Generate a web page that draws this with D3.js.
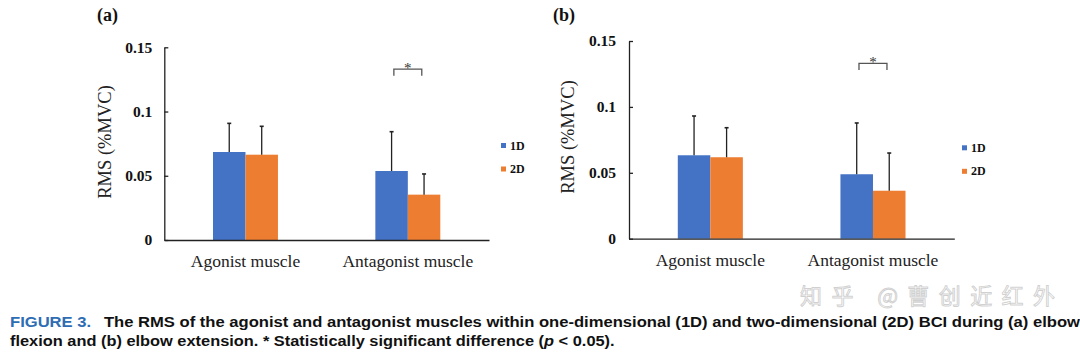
<!DOCTYPE html>
<html><head><meta charset="utf-8">
<script src="https://cdn.jsdelivr.net/npm/d3@7"></script>
<style>body{margin:0;background:#fff}svg{display:block}</style>
</head><body>
<svg id="c" width="1080" height="359"></svg>
<script>
const categories = ["Agonist muscle", "Antagonist muscle"];
const series = ["1D", "2D"];
const colors = ["#4472C4", "#ED7D31"];
const tickValues = [0, 0.05, 0.1, 0.15];
const tickLabels = ["0", "0.05", "0.1", "0.15"];
// panel (a) elbow flexion
const meanA_1D = [0.0685, 0.0537];
const meanA_2D = [0.0664, 0.0353];
const sdA_1D = [0.0223, 0.0306];
const sdA_2D = [0.0221, 0.0161];
// panel (b) elbow extension
const meanB_1D = [0.0633, 0.0489];
const meanB_2D = [0.0618, 0.0364];
const sdB_1D = [0.0298, 0.0389];
const sdB_2D = [0.0224, 0.0286];
const sigCategory = "Antagonist muscle";
const sigLevel = 0.133;

const svg = d3.select("#c");
const serif = "'Liberation Serif','Times New Roman',serif";
const sans = "'Liberation Sans',Arial,sans-serif";

function panel(o) {
  const g = svg.append("g");
  const y = d3.scaleLinear().domain([0, 0.15]).range([o.bottom, o.top]);
  const x = d3.scaleBand().domain(categories).range([o.left, o.right]).padding(0);
  const bw = x.bandwidth();
  const xs = d3.scaleBand().domain(series).range([bw * 0.3, bw * 0.7]);
  const means = [o.m1, o.m2], sds = [o.s1, o.s2];

  series.forEach((s, si) => {
    g.selectAll(null).data(categories).enter().append("rect")
      .attr("x", (d) => x(d) + xs(s))
      .attr("y", (d, i) => y(means[si][i]))
      .attr("width", xs.bandwidth())
      .attr("height", (d, i) => y(0) - y(means[si][i]))
      .attr("fill", colors[si]);
    categories.forEach((c, i) => {
      const cx = x(c) + xs(s) + xs.bandwidth() / 2;
      g.append("line").attr("x1", cx).attr("x2", cx)
        .attr("y1", y(means[si][i])).attr("y2", y(means[si][i] + sds[si][i]))
        .attr("stroke", "#222").attr("stroke-width", 1.3);
      g.append("line").attr("x1", cx - 2).attr("x2", cx + 2)
        .attr("y1", y(means[si][i] + sds[si][i])).attr("y2", y(means[si][i] + sds[si][i]))
        .attr("stroke", "#222").attr("stroke-width", 1.6);
    });
  });

  const ya = d3.axisLeft(y).tickValues(tickValues).tickFormat((d, i) => tickLabels[i])
    .tickSizeInner(-4).tickSizeOuter(0).tickPadding(o.pad);
  const yg = g.append("g").attr("transform", `translate(${o.left},0)`).call(ya);
  yg.select(".domain").attr("stroke", "#222").attr("stroke-width", 1.3);
  yg.selectAll(".tick line").attr("stroke", "#222").attr("stroke-width", 1.3);
  yg.selectAll(".tick text").attr("font-family", serif).attr("font-size", 15.5)
    .attr("font-weight", "bold").attr("fill", "#111");

  const xa = d3.axisBottom(x).tickSize(0).tickSizeOuter(0).tickPadding(15);
  const xg = g.append("g").attr("transform", `translate(0,${o.bottom})`).call(xa);
  xg.select(".domain").attr("stroke", "#222").attr("stroke-width", 1.3);
  xg.selectAll(".tick text").attr("font-family", serif).attr("font-size", 17.5).attr("fill", "#222");

  g.append("text").attr("transform", `translate(${o.ylx},${o.yly}) rotate(-90)`)
    .attr("text-anchor", "middle").attr("dominant-baseline", "central")
    .attr("font-family", serif).attr("font-size", 18.5).attr("fill", "#222")
    .text("RMS (%MVC)");

  g.append("text").attr("x", o.plx).attr("y", 21).attr("font-family", serif)
    .attr("font-size", 18).attr("font-weight", "bold").attr("fill", "#111").text(o.label);

  const jx = x(sigCategory) + bw / 2;
  const hw = xs.bandwidth() * 0.43;
  const by = y(sigLevel);
  g.append("path")
    .attr("d", `M${jx - hw},${by + 6.5}V${by}H${jx + hw}V${by + 6.5}`)
    .attr("fill", "none").attr("stroke", "#555").attr("stroke-width", 1.3);
  g.append("text").attr("x", jx).attr("y", by + 4).attr("text-anchor", "middle")
    .attr("font-family", serif).attr("font-size", 15).attr("fill", "#333").text("*");

  series.forEach((s, si) => {
    g.append("rect").attr("x", o.lgx).attr("y", o.lgy + si * 23.5).attr("width", 5).attr("height", 5)
      .attr("fill", colors[si]);
    g.append("text").attr("x", o.lgx + 9).attr("y", o.lgy + si * 23.5 + 6.5)
      .attr("font-family", serif).attr("font-size", 12).attr("font-weight", "bold")
      .attr("fill", "#111").text(s);
  });
}

panel({left: 164.3, right: 489, top: 47.3, bottom: 240, pad: 12,
  m1: meanA_1D, m2: meanA_2D, s1: sdA_1D, s2: sdA_2D,
  ylx: 105, yly: 142, plx: 97, label: "(a)", lgx: 501, lgy: 143});
panel({left: 629, right: 954.3, top: 41, bottom: 238.7, pad: 13,
  m1: meanB_1D, m2: meanB_2D, s1: sdB_1D, s2: sdB_2D,
  ylx: 568.3, yly: 137, plx: 553, label: "(b)", lgx: 962, lgy: 145.3});

function fitLine(xp, yp, width, build) {
  const t = svg.append("text").attr("font-family", sans).attr("font-size", 15.5)
    .attr("font-weight", "bold").attr("fill", "#111");
  build(t);
  const w = t.node().getComputedTextLength();
  t.attr("transform", `translate(${xp},${yp}) scale(${width / w},1)`);
}
fitLine(10, 327, 1058, (t) => {
  t.append("tspan").attr("fill", "#2E6DB4").text("FIGURE 3.");
  t.append("tspan").attr("dx", 12).text("The RMS of the agonist and antagonist muscles within one-dimensional (1D) and two-dimensional (2D) BCI during (a) elbow");
});
fitLine(10, 346, 605, (t) => {
  t.append("tspan").text("flexion and (b) elbow extension. * Statistically significant difference (");
  t.append("tspan").attr("font-style", "italic").text("p");
  t.append("tspan").text(" < 0.05).");
});

// watermark
svg.append("text").attr("x", 800).attr("y", 304).attr("textLength", 255)
  .attr("font-family", "'Noto Sans CJK SC',sans-serif").attr("font-size", 22)
  .attr("fill", "rgba(255,255,255,0.35)").attr("stroke", "rgba(120,120,120,0.35)").attr("stroke-width", 1)
  .text("知乎 @曹创近红外");
</script>
</body></html>
